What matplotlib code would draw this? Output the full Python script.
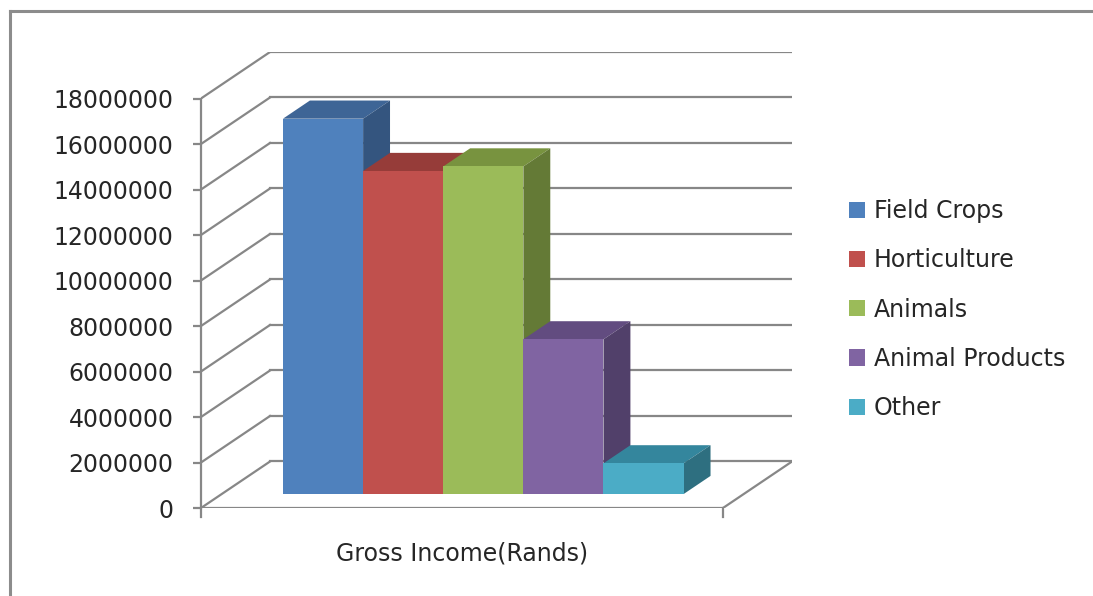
import matplotlib
matplotlib.use("Agg")
import matplotlib.pyplot as plt
from matplotlib.patches import Polygon, Patch
from matplotlib.lines import Line2D

# ── Data ──────────────────────────────────────────────────────────────────────
categories = ["Field Crops", "Horticulture", "Animals", "Animal Products", "Other"]
income = [16_500_000, 14_200_000, 14_400_000, 6_800_000, 1_350_000]
y_ticks = list(range(0, 18_000_001, 2_000_000))
x_label = "Gross Income(Rands)"

front_colors = ["#4F81BD", "#C0504D", "#9BBB59", "#8064A2", "#4BACC6"]
top_colors   = ["#3E6596", "#963C39", "#78933F", "#624C80", "#34869D"]
side_colors  = ["#34557F", "#7E302E", "#647A36", "#51406A", "#2E6F80"]

GRID = "#878787"
TEXT = "#262626"
FS = 17

# ── Oblique projection: depth f in [0, 1] shifts right and up ───────────────
DX = 0.1322          # x shift at full depth (floor width = 1)
DV = 2.044e6         # vertical shift at full depth, in value units
YMAX = y_ticks[-1]

def proj(x, v, f):
    return x + f * DX, v + f * DV

fig = plt.figure(figsize=(10.93, 5.96), dpi=100)
W, H = 1093, 596
ax = fig.add_axes([201 / W, (H - 508) / H, (792 - 201) / W, (508 - 52) / H])
ax.set_xlim(0, 1 + DX)
ax.set_ylim(0, YMAX + DV)
ax.patch.set_alpha(0)

# walls and floor
for v in y_ticks:
    (x1, y1), (x2, y2) = proj(0, v, 1), proj(1, v, 1)
    ax.plot([x1, x2], [y1, y2], color=GRID, lw=1.6, zorder=1)
    (x1, y1), (x2, y2) = proj(0, v, 0), proj(0, v, 1)
    ax.plot([x1, x2], [y1, y2], color=GRID, lw=1.6, zorder=1)

floor = [proj(0, 0, 0), proj(1, 0, 0), proj(1, 0, 1)]
ax.plot([p[0] for p in floor], [p[1] for p in floor], color=GRID, lw=1.6, zorder=1)
tick_drop = 0.4e6
for xc in (0, 1):
    ax.plot([xc, xc], [0, -tick_drop], color=GRID, lw=1.6, clip_on=False, zorder=1)

# bars
x0, w = 0.1174, 0.1535
f0, f1 = 0.30, 0.69
for i, v in enumerate(income):
    xl, xr = x0 + i * w, x0 + (i + 1) * w
    top = [proj(xl, v, f0), proj(xr, v, f0), proj(xr, v, f1), proj(xl, v, f1)]
    side = [proj(xr, 0, f0), proj(xr, 0, f1), proj(xr, v, f1), proj(xr, v, f0)]
    front = [proj(xl, 0, f0), proj(xr, 0, f0), proj(xr, v, f0), proj(xl, v, f0)]
    z = 3 + i
    ax.add_patch(Polygon(top, closed=True, fc=top_colors[i], ec="none", zorder=z))
    ax.add_patch(Polygon(side, closed=True, fc=side_colors[i], ec="none", zorder=z))
    ax.add_patch(Polygon(front, closed=True, fc=front_colors[i], ec="none", zorder=z))

# front value axis
for s in ("top", "right", "bottom"):
    ax.spines[s].set_visible(False)
ax.spines["left"].set_bounds(0, YMAX)
ax.spines["left"].set_color(GRID)
ax.spines["left"].set_linewidth(1.6)
ax.set_yticks(y_ticks)
ax.set_yticklabels([str(t) for t in y_ticks])
ax.tick_params(axis="y", direction="out", length=5.8, width=1.6, color=GRID,
               pad=14, labelsize=FS, labelcolor=TEXT)
ax.set_xticks([])

ax.annotate(x_label, xy=(0.5, 0), xycoords="data", xytext=(0, -33),
            textcoords="offset points", ha="center", va="center",
            fontsize=FS, color=TEXT)

handles = [Patch(facecolor=c, edgecolor="none", label=l)
           for c, l in zip(front_colors, categories)]
fig.legend(handles=handles, loc="upper left", bbox_to_anchor=(849 / W, (H - 199) / H),
           frameon=False, fontsize=FS, labelcolor=TEXT, borderpad=0, borderaxespad=0,
           handlelength=0.68, handleheight=0.68, handletextpad=0.38, labelspacing=1.07)

# chart area border (left and top edges)
bx, by = 10 / W, (H - 11) / H
fig.lines.append(Line2D([bx, bx], [0, by], transform=fig.transFigure,
                        color="#8C8C8C", lw=2.2))
fig.lines.append(Line2D([bx, 1], [by, by], transform=fig.transFigure,
                        color="#8C8C8C", lw=2.2))

fig.savefig("out.png", dpi=100)
